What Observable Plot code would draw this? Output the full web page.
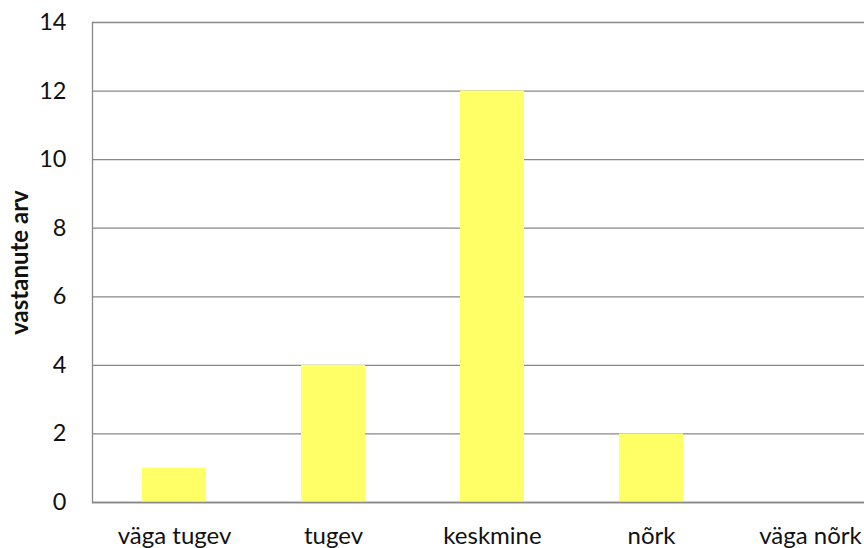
<!DOCTYPE html>
<html>
<head>
<meta charset="utf-8">
<script src="https://cdn.jsdelivr.net/npm/d3@7"></script>
<script src="https://cdn.jsdelivr.net/npm/@observablehq/plot@0.6"></script>
<style>
  html, body { margin: 0; padding: 0; background: #fff; overflow: hidden; }
  #chart svg { display: block; }
</style>
</head>
<body>
<div id="chart"></div>
<script>
const categories = ["väga tugev", "tugev", "keskmine", "nõrk", "väga nõrk"];
const counts = [1, 4, 12, 2, 0];
const yTicks = [0, 2, 4, 6, 8, 10, 12, 14];
const yTitle = "vastanute arv";

const data = categories.map((c, i) => ({category: c, value: counts[i]}));

const chart = Plot.plot({
  width: 864,
  height: 548,
  marginTop: 22,
  marginBottom: 46,
  marginLeft: 92,
  marginRight: 0,
  style: {fontFamily: "Lato, 'Open Sans', sans-serif", fontSize: "23px", color: "#000", background: "#fff"},
  x: {domain: categories, range: [92, 891], paddingInner: 0.6, paddingOuter: 0.3, align: 0.5},
  y: {domain: [0, 14]},
  marks: [
    Plot.gridY(yTicks, {stroke: "#888", strokeOpacity: 1, strokeWidth: 1.3}),
    Plot.barY(data, {x: "category", y: "value", fill: "#FFFF66"}),
    Plot.ruleY([0], {stroke: "#888", strokeWidth: 1.3}),
    Plot.frame({anchor: "left", stroke: "#888", strokeWidth: 1.3}),
    Plot.axisY(yTicks, {tickSize: 0, tickPadding: 26, fontSize: 23.5, fill: "#111", label: null}),
    Plot.axisX({tickSize: 0, tickPadding: 24, fontSize: 24, fill: "#111", label: null}),
    Plot.text([yTitle], {frameAnchor: "left", dx: -72, rotate: -90, textAnchor: "middle", fontWeight: "bold", fontSize: 24, fill: "#111", text: d => d})
  ]
});
document.getElementById("chart").appendChild(chart);
</script>
</body>
</html>
